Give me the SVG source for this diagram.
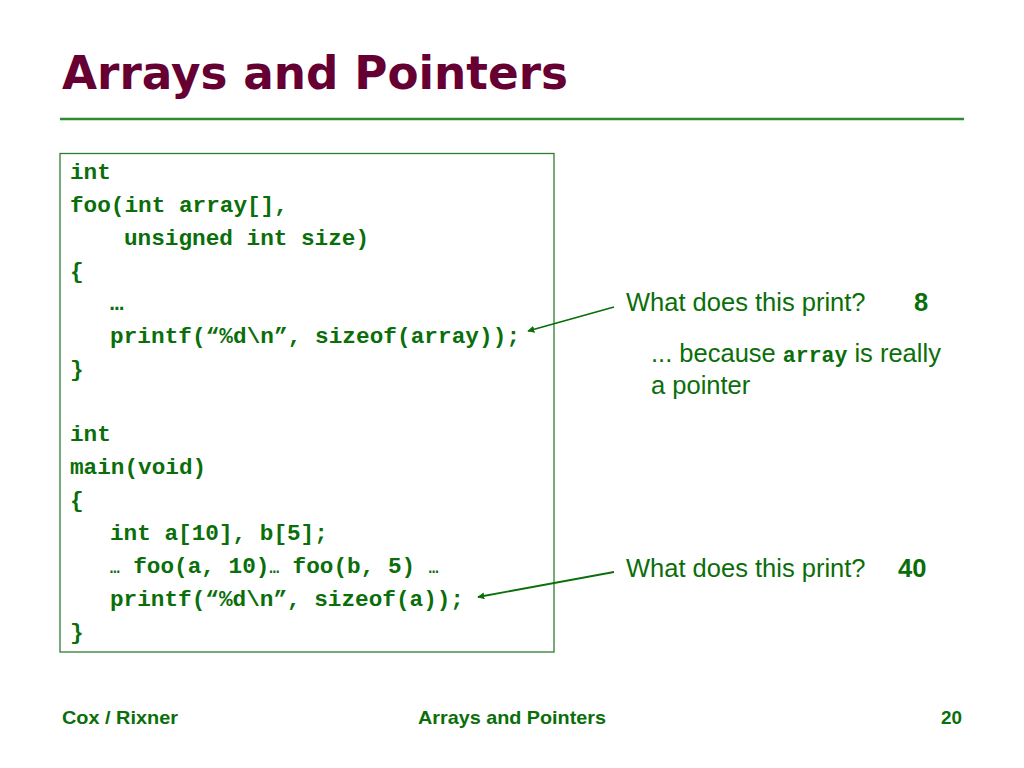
<svg xmlns="http://www.w3.org/2000/svg" width="1024" height="768" viewBox="0 0 1024 768">
<style>
.code{font-family:"Liberation Mono","Courier New",monospace;font-weight:bold;font-size:22.7px;fill:#0a6e0a}
.sans{font-family:"Liberation Sans",Arial,sans-serif;font-size:25.5px;fill:#0a6e0a}
.foot{font-family:"Liberation Sans",Arial,sans-serif;font-weight:bold;font-size:19px;fill:#0a6e0a}
.conn{stroke:#0a6e0a;stroke-width:1.8;fill:none;marker-end:url(#ah)}
</style>
<defs>
<marker id="ah" viewBox="0 0 10 10" refX="9" refY="5" markerWidth="7" markerHeight="7" markerUnits="userSpaceOnUse" orient="auto">
<path d="M0,0 L10,5 L0,10 z" fill="#0a6e0a"/>
</marker>
</defs>
<rect width="1024" height="768" fill="#ffffff"/>
<g id="title">
<text x="62" y="89" font-family="'DejaVu Sans',Verdana,sans-serif" font-weight="bold" font-size="46" fill="#660033" textLength="506" lengthAdjust="spacingAndGlyphs">Arrays and Pointers</text>
<line x1="60" y1="119" x2="964" y2="119" stroke="#2e8b2e" stroke-width="2.5"/>
</g>
<g id="code-box">
<rect x="60" y="153.5" width="494" height="498.5" fill="none" stroke="#2e7d2e" stroke-width="1.3"/>
<text class="code" x="70" y="179">int</text>
<text class="code" x="70" y="212">foo(int array[],</text>
<text class="code" x="124" y="245">unsigned int size)</text>
<text class="code" x="70" y="278">{</text>
<text class="code" x="110" y="310" font-size="16">…</text>
<text class="code" x="110" y="343" textLength="410" lengthAdjust="spacing">printf(“%d\n”, sizeof(array));</text>
<text class="code" x="70" y="376">}</text>
<text class="code" x="70" y="441">int</text>
<text class="code" x="70" y="474">main(void)</text>
<text class="code" x="70" y="507">{</text>
<text class="code" x="110" y="540">int a[10], b[5];</text>
<text class="code" x="110" y="573"><tspan font-size="16">…</tspan> foo(a, 10)<tspan font-size="16">…</tspan> foo(b, 5) <tspan font-size="16">…</tspan></text>
<text class="code" x="110" y="606">printf(“%d\n”, sizeof(a));</text>
<text class="code" x="70" y="639">}</text>
</g>
<g id="note1">
<text class="sans" x="626" y="311">What does this print?</text>
<text class="sans" x="914" y="311" font-weight="bold">8</text>
<text class="sans" x="651" y="362">... because <tspan font-family="'Liberation Mono','Courier New',monospace" font-weight="bold" font-size="21.5">array</tspan> is really</text>
<text class="sans" x="651" y="394">a pointer</text>
</g>
<g id="note2">
<text class="sans" x="626" y="577">What does this print?</text>
<text class="sans" x="898" y="577" font-weight="bold">40</text>
</g>
<g id="connectors">
<line class="conn" x1="614" y1="307" x2="528" y2="331"/>
<line class="conn" x1="614" y1="572" x2="478" y2="597"/>
</g>
<g id="footer">
<text class="foot" x="62" y="724" textLength="116" lengthAdjust="spacingAndGlyphs">Cox / Rixner</text>
<text class="foot" x="418" y="724" textLength="188" lengthAdjust="spacingAndGlyphs">Arrays and Pointers</text>
<text class="foot" x="941" y="724" textLength="21" lengthAdjust="spacingAndGlyphs">20</text>
</g>
</svg>
